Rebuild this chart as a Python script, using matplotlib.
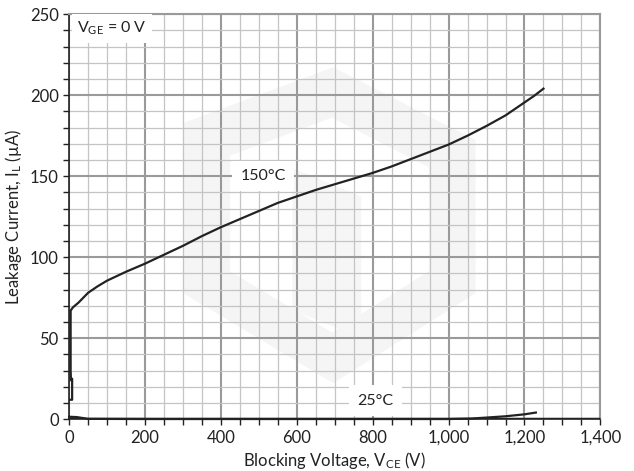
import numpy as np
import matplotlib.pyplot as plt
from matplotlib.ticker import MultipleLocator, FuncFormatter
from matplotlib.patches import Polygon

plt.rcParams["font.family"] = ["Lato", "DejaVu Sans"]
plt.rcParams["mathtext.default"] = "regular"

# 150 C curve (V, uA)
v_150 = [3, 8, 8, 5, 4, 4, 10, 25, 50, 75, 100, 150, 200, 250, 300, 350, 400,
         450, 500, 550, 600, 650, 700, 750, 800, 850, 900, 950, 1000, 1050,
         1100, 1150, 1200, 1225, 1250]
i_150 = [12, 12, 25, 24, 30, 67, 69, 72, 78, 82, 85.5, 91, 96, 101.5, 107,
         113, 118.5, 123.5, 128.5, 133.5, 137.5, 141.5, 145, 148.5, 152, 156,
         160.5, 165, 169.5, 175, 181, 187.5, 195.5, 199.5, 204]

# 25 C curve (V, uA)
v_25 = [0, 20, 50, 200, 600, 1000, 1060, 1100, 1150, 1200, 1230]
i_25 = [1.5, 1.3, 0.2, 0.1, 0.1, 0.1, 0.4, 1.0, 1.8, 3.0, 4.1]

fig = plt.figure(figsize=(6.34, 4.71), dpi=100)
ax = fig.add_axes([0.109, 0.110, 0.838, 0.860])

# faint watermark hexagon behind the grid
outer = [(0.497, 0.869), (0.765, 0.689), (0.765, 0.311), (0.497, 0.089),
         (0.215, 0.311), (0.215, 0.731)]
cx, cy = 0.49, 0.48
inner = [(cx + 0.68 * (x - cx), cy + 0.68 * (y - cy)) for x, y in outer]
ax.add_patch(Polygon(outer, closed=True, transform=ax.transAxes,
                     facecolor="#f5f5f5", edgecolor="none", zorder=0.1))
ax.add_patch(Polygon(inner, closed=True, transform=ax.transAxes,
                     facecolor="white", edgecolor="none", zorder=0.2))
ax.add_patch(Polygon([(0.42, 0.62), (0.55, 0.55), (0.55, 0.2), (0.42, 0.27)],
                     closed=True, transform=ax.transAxes,
                     facecolor="#f6f6f6", edgecolor="none", zorder=0.3))

ax.plot(v_150, i_150, color="#222222", lw=1.6, zorder=3)
ax.plot(v_25, i_25, color="#222222", lw=1.6, zorder=3, clip_on=False)
ax.axhline(0, color="#222222", lw=2.5, zorder=3)

ax.set_xlim(0, 1400)
ax.set_ylim(0, 250)
ax.xaxis.set_major_locator(MultipleLocator(200))
ax.xaxis.set_minor_locator(MultipleLocator(50))
ax.yaxis.set_major_locator(MultipleLocator(50))
ax.yaxis.set_minor_locator(MultipleLocator(10))
ax.xaxis.set_major_formatter(FuncFormatter(lambda v, p: f"{int(v):,}"))

ax.set_axisbelow(True)
ax.grid(which="major", color="#9a9a9a", lw=1.5)
ax.grid(which="minor", color="#c4c4c4", lw=0.9)

for s in ["top", "right"]:
    ax.spines[s].set_color("#9a9a9a")
    ax.spines[s].set_linewidth(1.5)
for s in ["left", "bottom"]:
    ax.spines[s].set_color("#222222")
    ax.spines[s].set_linewidth(1.2)

ax.tick_params(which="both", direction="out", length=4, width=1,
               color="#222222", labelsize=12, labelcolor="#222222")

ax.set_xlabel("Blocking Voltage, V$_{CE}$ (V)", fontsize=12,
              color="#222222", labelpad=3)
ax.set_ylabel("Leakage Current, I$_{ L}$ (µA)", fontsize=12,
              color="#222222", labelpad=4)

box = dict(facecolor="white", edgecolor="none", pad=4)
ax.text(113, 241, "V$_{GE}$ = 0 V", fontsize=11.5, ha="center", va="center",
        color="#222222", bbox=box, zorder=4)
ax.text(511, 150, "150°C", fontsize=11.5, ha="center", va="center",
        color="#222222", bbox=dict(facecolor="white", edgecolor="none",
                                   pad=6), zorder=4)
ax.text(807, 11.5, "25°C", fontsize=11.5, ha="center", va="center",
        color="#222222", bbox=dict(facecolor="white", edgecolor="none",
                                   pad=6), zorder=4)

fig.savefig("out.png", dpi=100)
